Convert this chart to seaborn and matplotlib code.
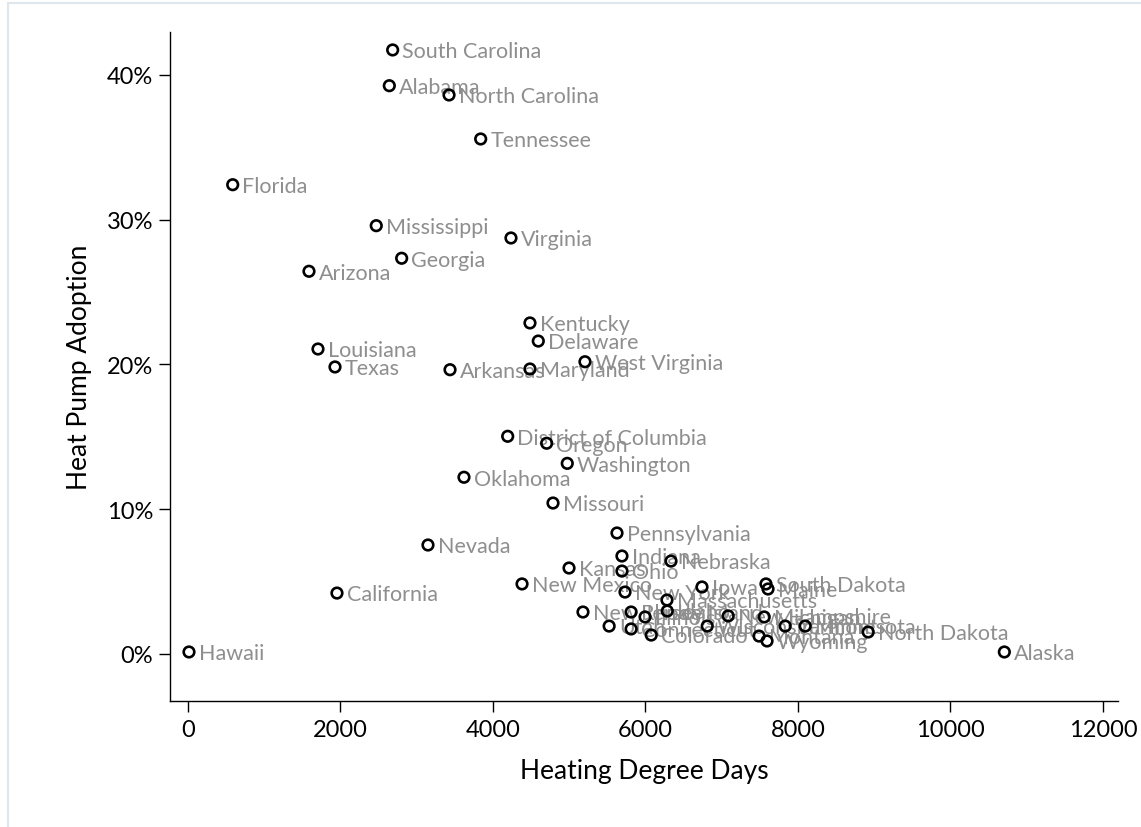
import matplotlib
matplotlib.use('Agg')
from matplotlib import pyplot as plt
from matplotlib.ticker import PercentFormatter
from matplotlib.lines import Line2D
import seaborn as sns
import pandas as pd

# state, heating degree days, heat pump adoption (%)
states = ['South Carolina', 'Alabama', 'North Carolina', 'Tennessee', 'Florida',
          'Mississippi', 'Virginia', 'Georgia', 'Arizona', 'Kentucky', 'Delaware',
          'Louisiana', 'West Virginia', 'Texas', 'Arkansas', 'Maryland',
          'District of Columbia', 'Oregon', 'Washington', 'Oklahoma', 'Missouri',
          'Pennsylvania', 'Nevada', 'Indiana', 'Nebraska', 'Kansas', 'Ohio',
          'New Mexico', 'Iowa', 'South Dakota', 'Maine', 'California', 'New York',
          'Massachusetts', 'New Jersey', 'Utah', 'Rhode Island', 'Connecticut',
          'Illinois', 'Colorado', 'Idaho', 'Wisconsin', 'New Hampshire', 'Michigan',
          'Vermont', 'Minnesota', 'North Dakota', 'Montana', 'Wyoming',
          'Hawaii', 'Alaska']
hdd = [2687, 2643, 3426, 3841, 590,
       2472, 4238, 2805, 1590, 4487, 4596,
       1708, 5208, 1931, 3439, 4487,
       4195, 4706, 4976, 3622, 4789,
       5628, 3150, 5693, 6336, 4999, 5693,
       4383, 6742, 7581, 7608, 1957, 5733,
       6283, 5182, 5525, 5813, 5813,
       5996, 6077, 6287, 6811, 7086, 7558,
       7833, 8095, 8921, 7490, 7595,
       17, 10706]
hp_share = [41.73, 39.26, 38.62, 35.58, 32.42,
            29.59, 28.74, 27.34, 26.44, 22.87, 21.62,
            21.07, 20.19, 19.83, 19.64, 19.69,
            15.04, 14.56, 13.17, 12.21, 10.43,
            8.36, 7.53, 6.77, 6.42, 5.94, 5.73,
            4.84, 4.63, 4.84, 4.49, 4.21, 4.28,
            3.73, 2.90, 1.93, 2.90, 1.73,
            2.56, 1.31, 2.97, 1.93, 2.63, 2.56,
            1.93, 1.93, 1.52, 1.24, 0.90,
            0.14, 0.14]
x_ticks = [0, 2000, 4000, 6000, 8000, 10000, 12000]
y_ticks = [0, 10, 20, 30, 40]

df = pd.DataFrame({'state': states, 'hdd': hdd, 'hp': hp_share})

sns.set_style('white')
plt.rcParams['font.family'] = ['Lato', 'DejaVu Sans']

fig = plt.figure(figsize=(11.41, 8.28), dpi=100)
W, H = 1141, 828
ax = fig.add_axes([170 / W, 1 - 702 / H, (1118 - 170) / W, (702 - 33) / H])

sns.scatterplot(data=df, x='hdd', y='hp', ax=ax, s=58, marker='o',
                facecolor='none', edgecolor='black', linewidth=1.9, zorder=3)

# labels to the right of each marker
for _, row in df.iterrows():
    ax.annotate(row['state'], (row['hdd'], row['hp']), xytext=(7, -1),
                textcoords='offset points', ha='left', va='center',
                fontsize=15.5, color='#8e8e8e', zorder=2)

ax.set_xlim(-232, 12196)
ax.set_ylim(-3.247, 42.97)
ax.set_xticks(x_ticks)
ax.set_yticks(y_ticks)
ax.yaxis.set_major_formatter(PercentFormatter(xmax=100, decimals=0))

sns.despine(ax=ax)
for side in ['left', 'bottom']:
    ax.spines[side].set_linewidth(1.0)
    ax.spines[side].set_color('black')
ax.tick_params(axis='both', which='major', length=8, width=1.0, color='black',
               labelsize=17, labelcolor='black', direction='out')
ax.tick_params(axis='x', pad=5)
ax.tick_params(axis='y', pad=4)
ax.tick_params(left=True, bottom=True)

ax.set_xlabel('Heating Degree Days', fontsize=19, color='black')
ax.set_ylabel('Heat Pump Adoption', fontsize=19, color='black')
ax.xaxis.set_label_coords(0.5, (702 - 772) / 669)
ax.xaxis.label.set_va('center')
ax.yaxis.set_label_coords((80 - 170) / 948, 0.5)
ax.yaxis.label.set_va('center')

# light frame of the graph region
fig.add_artist(Line2D([8 / W, 8 / W], [0, 1 - 4 / H], transform=fig.transFigure,
                      color='#dfe7ec', linewidth=1.5))
fig.add_artist(Line2D([8 / W, 1], [1 - 4 / H, 1 - 4 / H], transform=fig.transFigure,
                      color='#dfe7ec', linewidth=1.5))

fig.savefig('out.png', dpi=100)
